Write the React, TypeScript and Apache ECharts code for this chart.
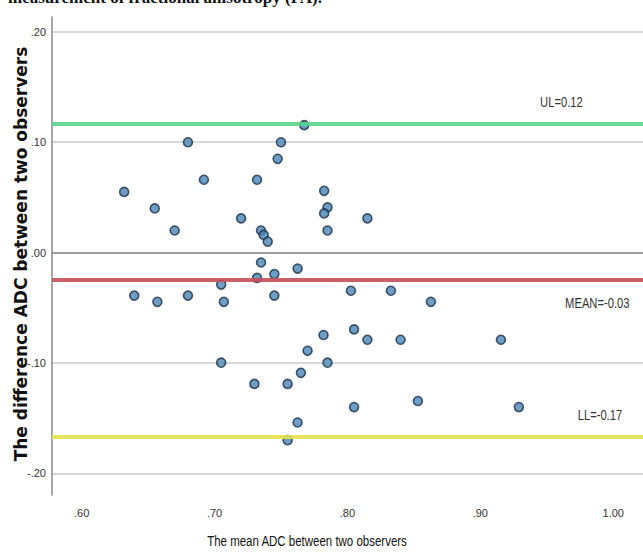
import React, { useEffect, useRef } from "react";
import * as echarts from "echarts";

const xTicks = [0.6, 0.7, 0.8, 0.9, 1.0];
const yTicks = [-0.2, -0.1, 0, 0.1, 0.2];

const meanAdc = [
  0.632, 0.655, 0.67, 0.68, 0.692, 0.732, 0.72, 0.735, 0.737, 0.74,
  0.735, 0.732, 0.75, 0.7475, 0.7675, 0.7825, 0.785, 0.7825, 0.815, 0.785,
  0.745, 0.7625, 0.6396, 0.657, 0.68, 0.705, 0.707, 0.705, 0.745, 0.77,
  0.765, 0.73, 0.755, 0.7625, 0.755, 0.8026, 0.8327, 0.8628, 0.782, 0.805,
  0.815, 0.84, 0.9155, 0.785, 0.805, 0.853, 0.929,
];
const diffAdc = [
  0.055, 0.04, 0.02, 0.1, 0.066, 0.066, 0.031, 0.02, 0.016, 0.01,
  -0.009, -0.023, 0.1, 0.085, 0.1155, 0.056, 0.041, 0.0355, 0.031, 0.02,
  -0.0195, -0.0145, -0.039, -0.0446, -0.039, -0.029, -0.0446, -0.0998, -0.039, -0.089,
  -0.109, -0.119, -0.119, -0.154, -0.17, -0.0346, -0.0346, -0.0446, -0.0747, -0.0696,
  -0.079, -0.079, -0.079, -0.0998, -0.14, -0.1345, -0.14,
];

const limitNames = ["UL=0.12", "MEAN=-0.03", "LL=-0.17"];
const limitValues = [0.117, -0.025, -0.167];
const limitColors = ["#55d58c", "#c64f5a", "#e3e34a"];
const limitLabelX = [0.961, 0.988, 0.99];
const limitLabelY = [0.136, -0.046, -0.148];

const titleText = "measurement of fractional anisotropy (FA).";
const xName = "The mean ADC between two observers";
const yName = "The difference ADC between two observers";

const fmt = (v: number) => {
  const s = Math.abs(v).toFixed(2);
  const t = s.startsWith("0") ? s.slice(1) : s;
  return (v < -1e-9 ? "-" : "") + t;
};

const sans = "'Liberation Sans', Arial, sans-serif";

export default function App() {
  const ref = useRef<HTMLDivElement>(null);
  useEffect(() => {
    if (!ref.current) return;
    const chart = echarts.init(ref.current, undefined, { renderer: "svg" });
    chart.setOption({
      animation: false,
      backgroundColor: "#ffffff",
      grid: { left: 52, top: 17, right: 0, bottom: 57, containLabel: false },
      xAxis: {
        type: "value",
        min: 0.5777,
        max: 1.0224,
        axisLine: { show: true, lineStyle: { color: "#8a8a8a", width: 1.5 } },
        axisTick: { show: false, customValues: xTicks },
        splitLine: { show: false },
        axisLabel: {
          customValues: xTicks,
          formatter: fmt,
          color: "#333",
          fontFamily: sans,
          fontSize: 11,
          margin: 12,
        },
      },
      yAxis: {
        type: "value",
        min: -0.2197,
        max: 0.2135,
        axisLine: { show: true, lineStyle: { color: "#8a8a8a", width: 1.5 } },
        axisTick: { show: false, customValues: yTicks },
        splitLine: { show: true, lineStyle: { color: "#cdcdcd", width: 1.5 } },
        axisLabel: {
          customValues: yTicks,
          formatter: fmt,
          color: "#333",
          fontFamily: sans,
          fontSize: 11,
          margin: 6,
        },
      },
      series: [
        {
          type: "scatter",
          data: meanAdc.map((m, i) => [m, diffAdc[i]]),
          symbol: "circle",
          symbolSize: 9,
          itemStyle: { color: "#4a85b6", borderColor: "#1d2f45", borderWidth: 1.6 },
          z: 2,
        },
        {
          type: "line",
          data: [],
          z: 3,
          markLine: {
            silent: true,
            symbol: "none",
            precision: 4,
            label: { show: false },
            data: limitValues.map((v, i) => ({
              yAxis: v,
              lineStyle: { color: limitColors[i], width: 4, type: "solid", opacity: 0.9 },
            })),
          },
        },
      ],
    });

    const labelGraphics = limitNames.map((n, i) => {
      const p = chart.convertToPixel({ gridIndex: 0 }, [limitLabelX[i], limitLabelY[i]]) as number[];
      return {
        type: "text",
        x: p[0],
        y: p[1],
        scaleX: 0.8,
        style: {
          text: n,
          fill: "#333",
          font: "14px " + sans,
          textAlign: "center",
          textVerticalAlign: "middle",
        },
        z: 10,
      };
    });

    chart.setOption({
      graphic: [
        {
          type: "text",
          left: 8,
          top: -11,
          style: {
            text: titleText,
            fill: "#111",
            font: "bold 17px 'Liberation Serif', 'DejaVu Serif', serif",
          },
        },
        {
          type: "text",
          x: 21,
          y: 254,
          rotation: Math.PI / 2,
          style: {
            text: yName,
            fill: "#111",
            font: "bold 17px 'DejaVu Sans', 'Liberation Sans', sans-serif",
            textAlign: "center",
            textVerticalAlign: "middle",
          },
        },
        {
          type: "text",
          x: 307,
          y: 541,
          scaleX: 0.82,
          style: {
            text: xName,
            fill: "#111",
            font: "14px " + sans,
            textAlign: "center",
            textVerticalAlign: "middle",
          },
        },
        ...labelGraphics,
      ],
    });
    return () => chart.dispose();
  }, []);
  return (
    <div
      ref={ref}
      style={{ position: "fixed", left: 0, top: 0, width: 643, height: 552, background: "#fff" }}
    />
  );
}
